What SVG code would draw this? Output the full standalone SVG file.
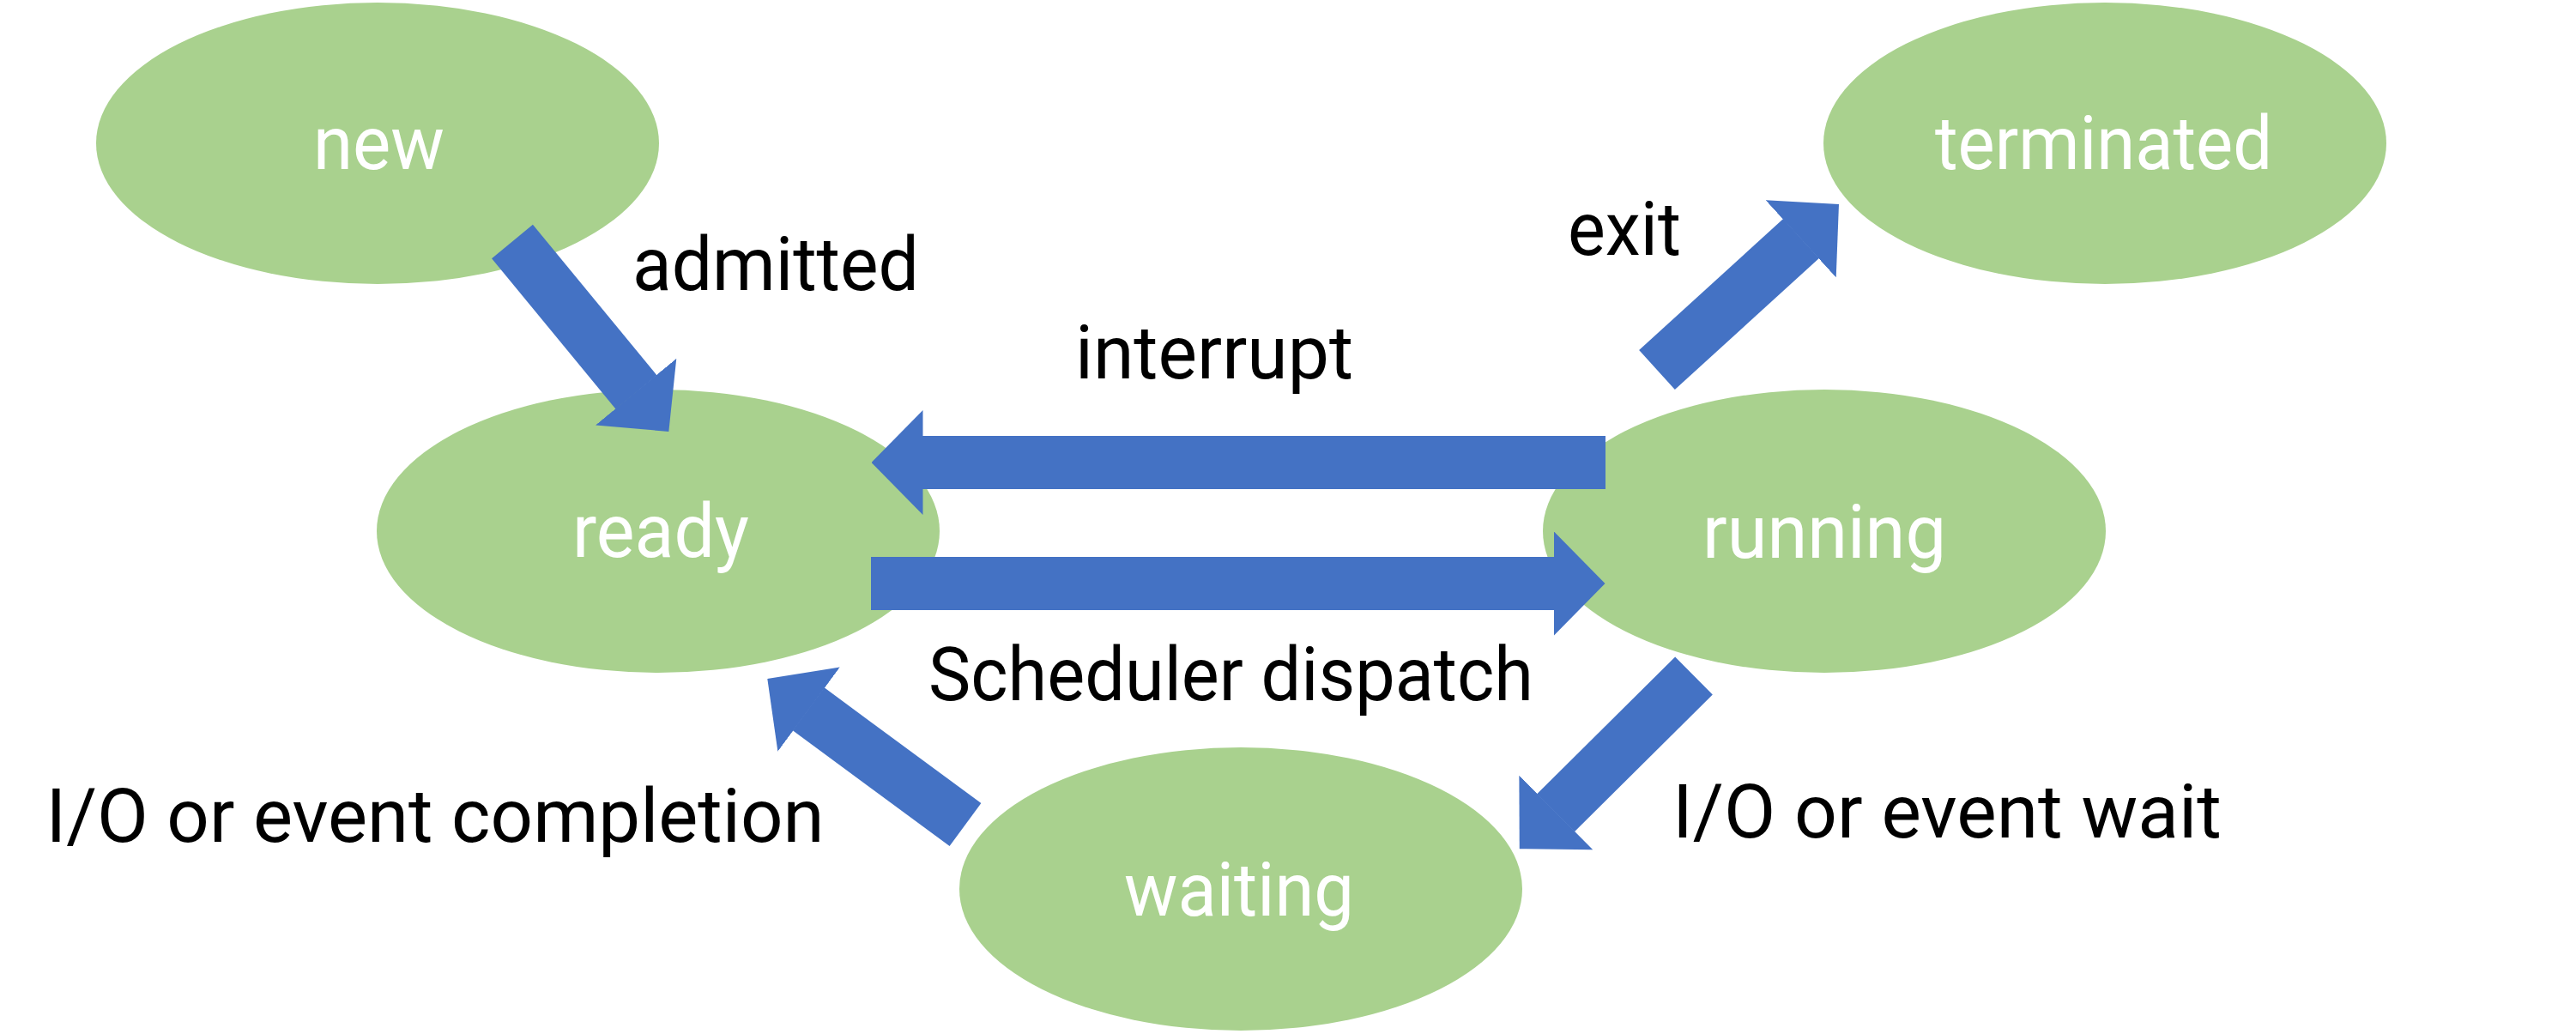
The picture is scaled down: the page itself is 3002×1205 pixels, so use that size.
<svg xmlns="http://www.w3.org/2000/svg" width="3002" height="1205" viewBox="0 0 3002 1205">
  <style>
    .node { fill: #A9D18E; }
    .nlabel { font-family: Roboto, "Noto Sans", sans-serif; font-size: 87px; fill: #FFFFFF; text-anchor: middle; }
    .elabel { font-family: Roboto, "Noto Sans", sans-serif; font-size: 87px; fill: #000000; text-anchor: middle; }
    .conn { stroke: #4472C4; stroke-width: 62; stroke-linecap: butt; fill: none; marker-end: url(#head); }
  </style>
  <defs>
    <marker id="head" markerUnits="userSpaceOnUse" viewBox="0 0 60 122" markerWidth="60" markerHeight="122" refX="0.5" refY="61" orient="auto">
      <path d="M0,0 L60,61 L0,122 Z" fill="#4472C4"/>
    </marker>
  </defs>
  <rect width="3002" height="1205" fill="#FFFFFF"/>

  <g id="node-new">
    <ellipse class="node" cx="440" cy="167" rx="328" ry="164"/>
    <text class="nlabel" x="441.5" y="197" textLength="153" lengthAdjust="spacingAndGlyphs">new</text>
  </g>
  <g id="node-terminated">
    <ellipse class="node" cx="2453" cy="167" rx="328" ry="164"/>
    <text class="nlabel" x="2451.5" y="197" textLength="393" lengthAdjust="spacingAndGlyphs">terminated</text>
  </g>
  <g id="node-ready">
    <ellipse class="node" cx="767" cy="619" rx="328" ry="165"/>
    <text class="nlabel" x="770" y="649" textLength="206" lengthAdjust="spacingAndGlyphs">ready</text>
  </g>
  <g id="node-running">
    <ellipse class="node" cx="2126" cy="619" rx="328" ry="165"/>
    <text class="nlabel" x="2126" y="650" textLength="284" lengthAdjust="spacingAndGlyphs">running</text>
  </g>
  <g id="node-waiting">
    <ellipse class="node" cx="1446" cy="1036" rx="328" ry="165"/>
    <text class="nlabel" x="1444" y="1067" textLength="268" lengthAdjust="spacingAndGlyphs">waiting</text>
  </g>

  <g id="connectors">
    <line class="conn" x1="597" y1="281.5" x2="741.5" y2="457"/>
    <line class="conn" x1="1871" y1="539" x2="1075" y2="539"/>
    <line class="conn" x1="1015" y1="680" x2="1811" y2="680"/>
    <line class="conn" x1="1931" y1="431" x2="2099" y2="278"/>
    <line class="conn" x1="1974" y1="787.5" x2="1813" y2="947.3"/>
    <line class="conn" x1="1125" y1="961" x2="942.2" y2="826.3"/>
  </g>

  <g id="edge-labels">
    <text class="elabel" x="904" y="338" textLength="334" lengthAdjust="spacingAndGlyphs">admitted</text>
    <text class="elabel" x="1893" y="297" textLength="132" lengthAdjust="spacingAndGlyphs">exit</text>
    <text class="elabel" x="1415" y="441" textLength="324" lengthAdjust="spacingAndGlyphs">interrupt</text>
    <text class="elabel" x="1434.5" y="816" textLength="705" lengthAdjust="spacingAndGlyphs">Scheduler dispatch</text>
    <text class="elabel" x="507" y="981" textLength="907" lengthAdjust="spacingAndGlyphs">I/O or event completion</text>
    <text class="elabel" x="2269" y="976" textLength="640" lengthAdjust="spacingAndGlyphs">I/O or event wait</text>
  </g>
</svg>
